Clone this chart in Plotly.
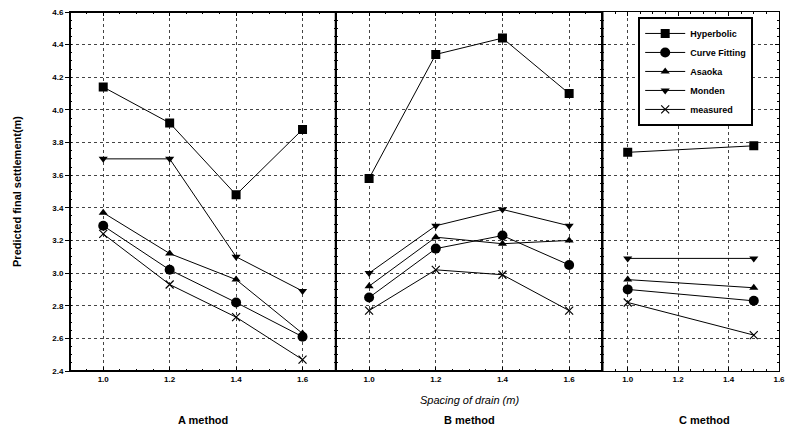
import plotly.graph_objects as go

series_names = ["Hyperbolic", "Curve Fitting", "Asaoka", "Monden", "measured"]
x_ab = [1.0, 1.2, 1.4, 1.6]
x_c = [1.0, 1.5]

a_hyperbolic = [4.14, 3.92, 3.48, 3.88]
a_curve = [3.29, 3.02, 2.82, 2.61]
a_asaoka = [3.37, 3.12, 2.96, 2.63]
a_monden = [3.70, 3.70, 3.10, 2.89]
a_measured = [3.24, 2.93, 2.73, 2.47]

b_hyperbolic = [3.58, 4.34, 4.44, 4.10]
b_curve = [2.85, 3.15, 3.23, 3.05]
b_asaoka = [2.92, 3.22, 3.18, 3.20]
b_monden = [3.00, 3.29, 3.39, 3.29]
b_measured = [2.77, 3.02, 2.99, 2.77]

c_hyperbolic = [3.74, 3.78]
c_curve = [2.90, 2.83]
c_asaoka = [2.96, 2.91]
c_monden = [3.09, 3.09]
c_measured = [2.82, 2.62]

panel_titles = ["A method", "B method", "C method"]
x_title = "Spacing of drain (<i>m</i>)"
y_title = "Predicted final settlement(m)"

markers = [
    dict(symbol="square", size=9, color="black"),
    dict(symbol="circle", size=10, color="black"),
    dict(symbol="triangle-up", size=8, color="black"),
    dict(symbol="triangle-down", size=8, color="black"),
    dict(symbol="x-thin", size=8, color="black", line=dict(width=1.2, color="black")),
]

panels = [
    (x_ab, [a_hyperbolic, a_curve, a_asaoka, a_monden, a_measured], "x", "y"),
    (x_ab, [b_hyperbolic, b_curve, b_asaoka, b_monden, b_measured], "x2", "y2"),
    (x_c, [c_hyperbolic, c_curve, c_asaoka, c_monden, c_measured], "x3", "y3"),
]

fig = go.Figure()
for pi, (xs, ys_list, xa, ya) in enumerate(panels):
    for si, ys in enumerate(ys_list):
        fig.add_trace(go.Scatter(
            x=xs, y=ys, mode="lines+markers", name=series_names[si],
            line=dict(color="black", width=1), marker=markers[si],
            xaxis=xa, yaxis=ya, showlegend=(pi == 0),
        ))

font_tick = dict(family="Arial, Liberation Sans", size=8, color="black", weight="bold")
ax_common = dict(
    showline=True, linecolor="black", linewidth=1, mirror="ticks",
    ticks="inside", ticklen=4, tickcolor="black", tickwidth=1,
    showgrid=True, gridcolor="#444", griddash="dot", gridwidth=1,
    zeroline=False, tickfont=font_tick,
    minor=dict(ticks="inside", ticklen=2, tickcolor="black", showgrid=False),
)

d1 = (338 - 70) / 715
d2 = (607 - 70) / 715

layout = dict(
    width=793, height=435,
    margin=dict(l=70, r=8, t=8, b=64),
    paper_bgcolor="white", plot_bgcolor="white",
    font=dict(family="Arial, Liberation Sans", color="black"),
    xaxis=dict(domain=[0, d1], range=[0.9, 1.7], dtick=0.2, tick0=1.0,
               tickformat=".1f", anchor="y", **ax_common),
    xaxis2=dict(domain=[d1, d2], range=[0.9, 1.7], dtick=0.2, tick0=1.0,
                tickformat=".1f", anchor="y2", **ax_common),
    xaxis3=dict(domain=[d2, 1], range=[0.9, 1.6], dtick=0.2, tick0=1.0,
                tickformat=".1f", anchor="y3", **ax_common),
)
y_common = dict(ax_common)
layout["yaxis"] = dict(range=[2.4, 4.6], dtick=0.2, tick0=2.4, tickformat=".1f",
                       anchor="x", **{**y_common, "ticks": "outside"},
                       title=dict(text="<b>" + y_title + "</b>", font=dict(size=11), standoff=28))
layout["yaxis2"] = dict(range=[2.4, 4.6], dtick=0.2, tick0=2.4, anchor="x2",
                        showticklabels=False, **y_common)
layout["yaxis3"] = dict(range=[2.4, 4.6], dtick=0.2, tick0=2.4, anchor="x3",
                        showticklabels=False, **y_common)
fig.update_layout(**layout)

fig.update_layout(legend=dict(
    x=(643 - 70) / 715, y=1 - (13 - 8) / 363, xanchor="left", yanchor="top",
    bordercolor="black", borderwidth=2, bgcolor="white",
    font=dict(size=9, family="Arial, Liberation Sans", color="black", weight="bold"),
    tracegroupgap=0, itemwidth=40,
))

# thicker frame lines (left, bottom, panel separators)
for xp in [0, d1, d2]:
    fig.add_shape(type="line", xref="paper", yref="paper", x0=xp, x1=xp, y0=0, y1=1,
                  line=dict(color="black", width=2))
fig.add_shape(type="line", xref="paper", yref="paper", x0=0, x1=d2, y0=0, y1=0,
              line=dict(color="black", width=2))
fig.add_shape(type="line", xref="paper", yref="paper", x0=0, x1=d2, y0=1, y1=1,
              line=dict(color="black", width=2))

centers = [(204 - 70) / 715, (473 - 70) / 715, (710 - 70) / 715]
for c, t in zip(centers, panel_titles):
    fig.add_annotation(x=c, y=-(421 - 371) / 363, xref="paper", yref="paper",
                       text="<b>" + t + "</b>", showarrow=False,
                       font=dict(size=11, family="Arial, Liberation Sans"),
                       xanchor="center", yanchor="middle")
fig.add_annotation(x=(473 - 70) / 715, y=-(400 - 371) / 363, xref="paper", yref="paper",
                   text="<i>" + x_title + "</i>", showarrow=False,
                   font=dict(size=11, family="Arial, Liberation Sans"),
                   xanchor="center", yanchor="middle")

fig.write_html("out.html")
